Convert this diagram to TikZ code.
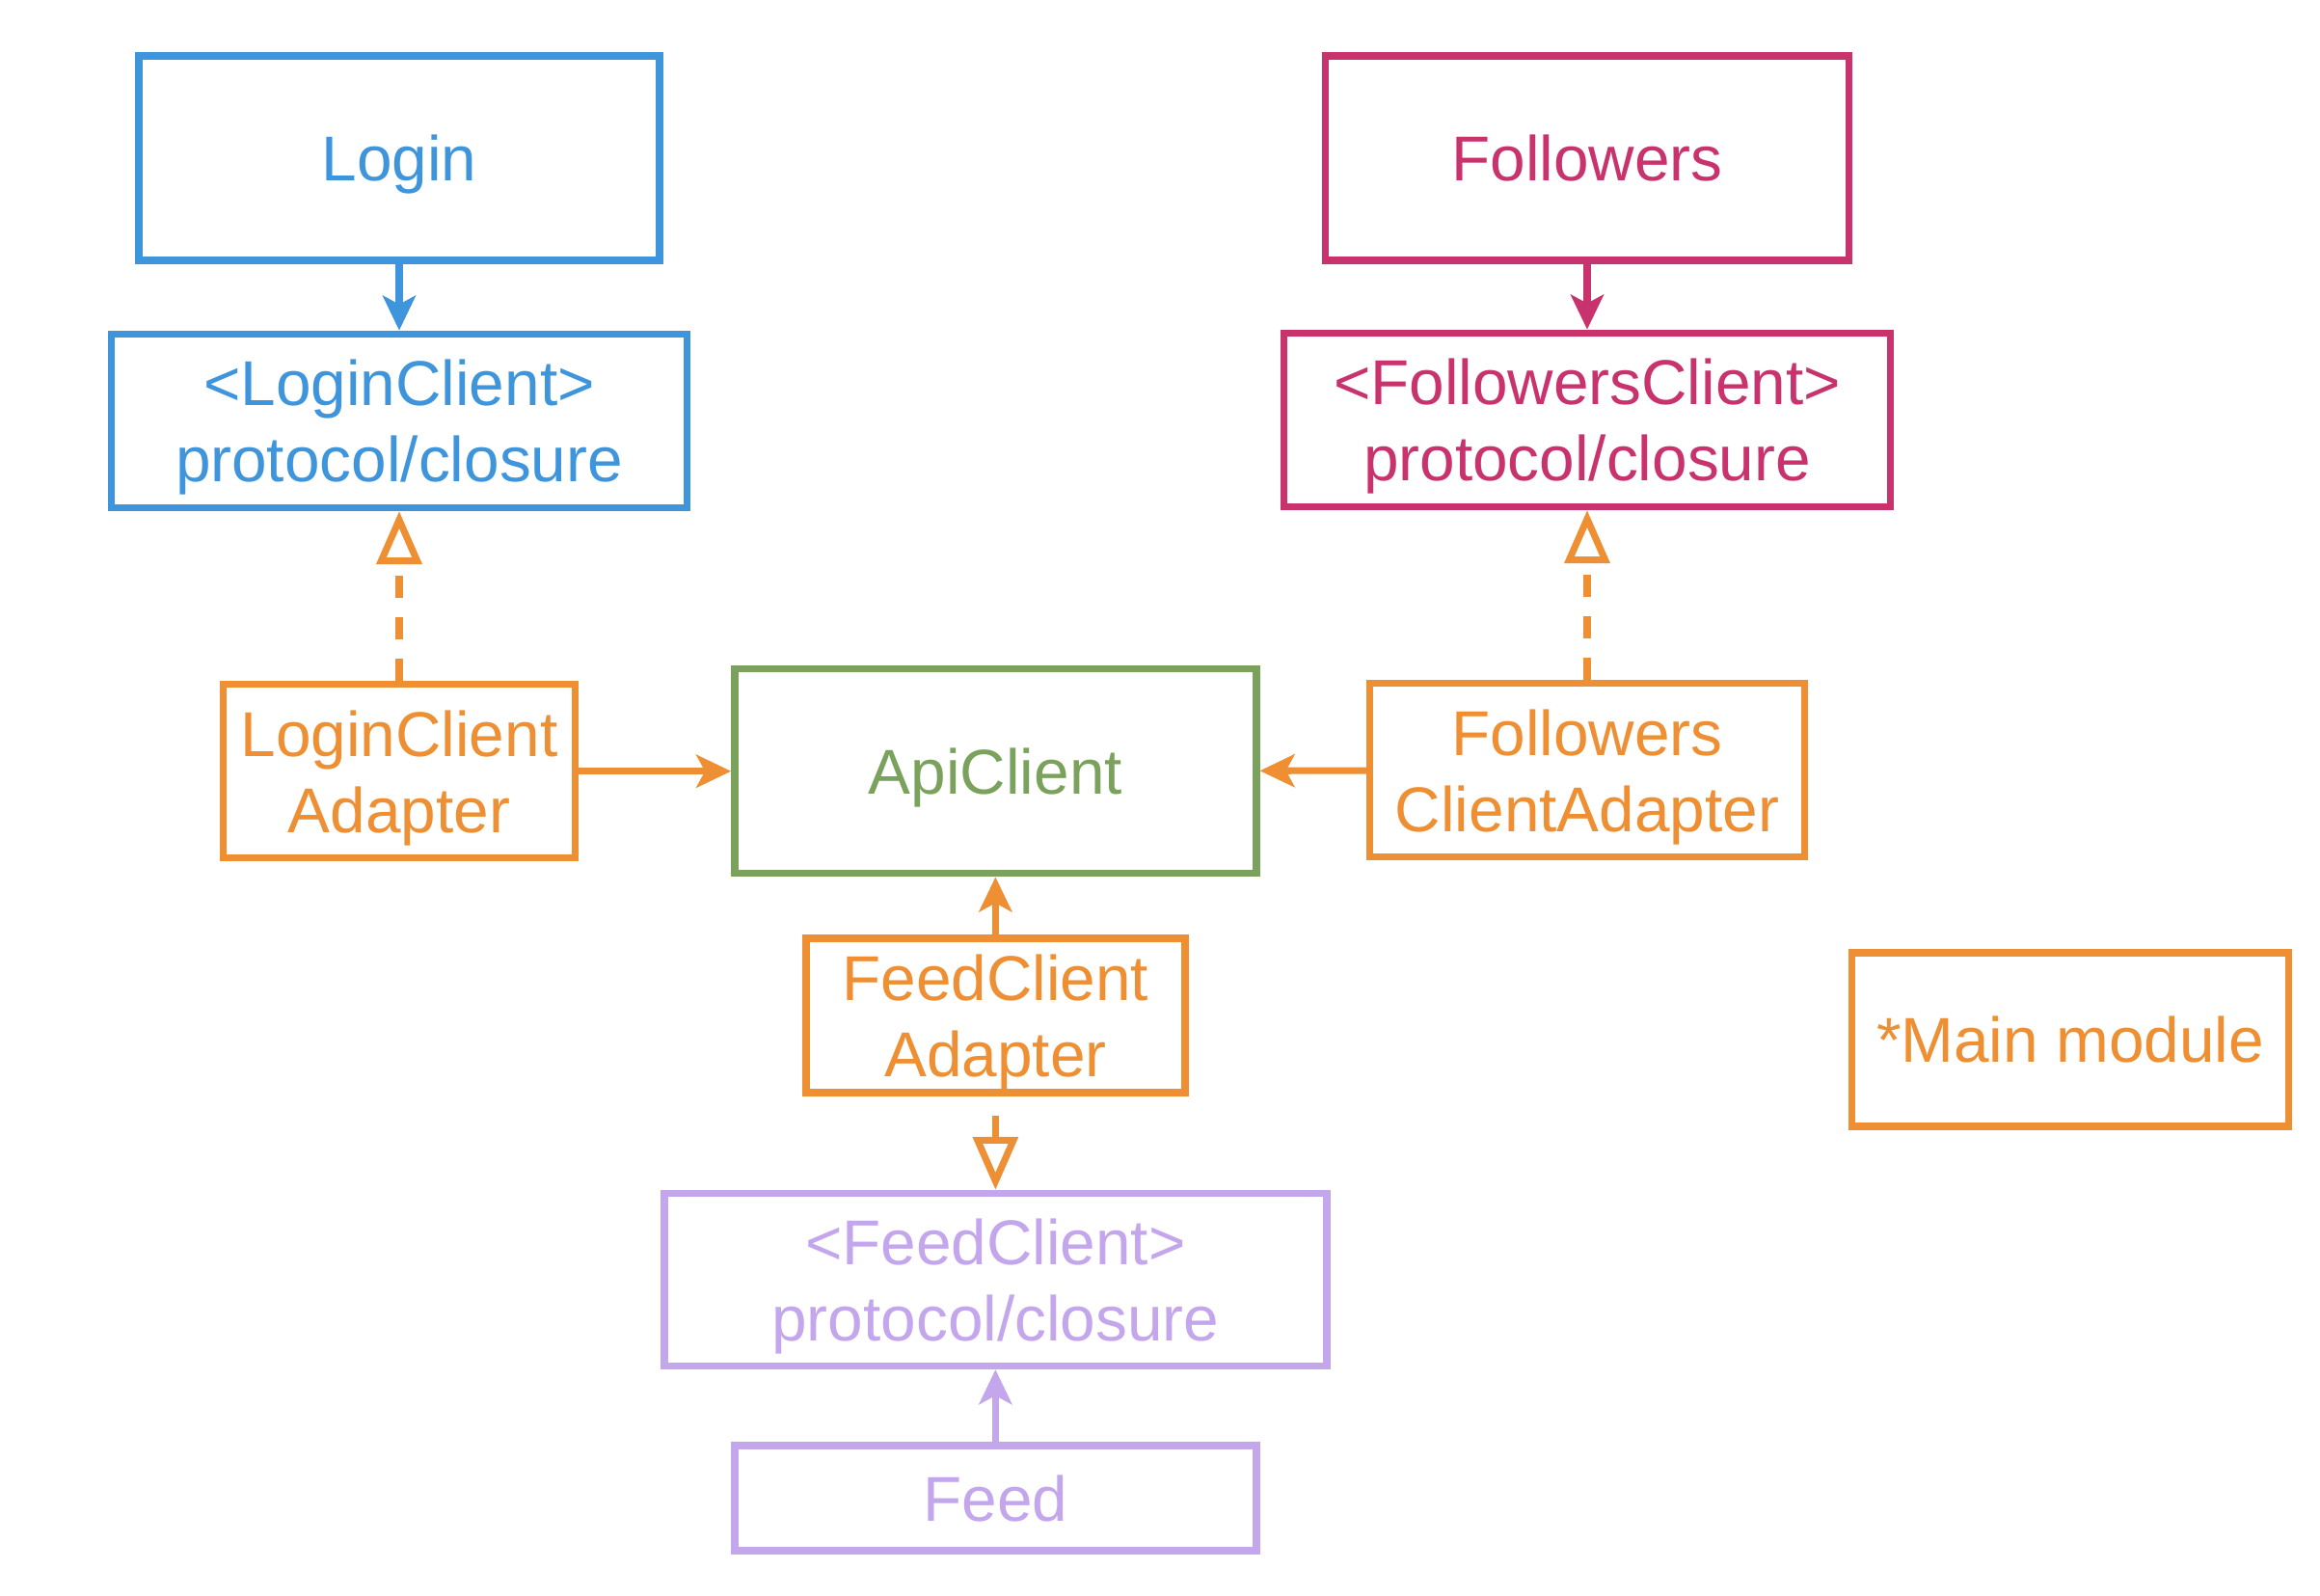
\documentclass[tikz,border=0pt]{standalone}
\usepackage{fontspec}
\setmainfont{Liberation Sans}
\usepackage{xcolor}
\usepackage{tikz}
\usetikzlibrary{arrows.meta,positioning}

\definecolor{loginblue}{RGB}{62,149,220}
\definecolor{followerspink}{RGB}{200,51,110}
\definecolor{adapterorange}{RGB}{237,143,50}
\definecolor{apigreen}{RGB}{122,162,92}
\definecolor{feedpurple}{RGB}{196,166,236}

\begin{document}
\begin{tikzpicture}[
    box/.style={rectangle, line width=2.1pt, align=center, inner sep=0pt, text depth=0pt, font=\fontsize{18.7}{22.5}\selectfont},
    login/.style={box, draw=loginblue, text=loginblue},
    followers/.style={box, draw=followerspink, text=followerspink},
    api/.style={box, draw=apigreen, text=apigreen},
    feed/.style={box, draw=feedpurple, text=feedpurple},
    adapter/.style={box, draw=adapterorange, text=adapterorange},
    uses/.style={-{Stealth[length=3.6mm, width=3.4mm, inset=0.9mm]}, line width=2pt},
    conforms/.style={-{Triangle[open, length=5.5mm, width=4.6mm]}, line width=2pt, dash pattern=on 2.3mm off 2mm}
]
    \useasboundingbox (0,0) rectangle (24.06,16.55);

    % Feature modules
    \node[login, minimum width=5.40cm, minimum height=2.12cm] (login) at (4.14,14.91) {Login};
    \node[login, minimum width=5.97cm, minimum height=1.80cm, below=0.69cm of login] (loginclient) {<LoginClient>\\protocol/closure};
    \node[followers, minimum width=5.43cm, minimum height=2.12cm] (followers) at (16.46,14.91) {Followers};
    \node[followers, minimum width=6.29cm, minimum height=1.80cm, below=0.68cm of followers] (followersclient) {<FollowersClient>\\protocol/closure};

    % Adapters and api
    \node[adapter, minimum width=3.65cm, minimum height=1.80cm, below=1.76cm of loginclient] (loginadapter) {LoginClient\\Adapter};
    \node[api, minimum width=5.41cm, minimum height=2.12cm, right=1.58cm of loginadapter] (apiclient) {ApiClient};
    \node[adapter, minimum width=4.51cm, minimum height=1.80cm, below=1.76cm of followersclient] (followersadapter) {Followers\\ClientAdapter};
    \node[adapter, minimum width=3.93cm, minimum height=1.60cm, below=0.60cm of apiclient] (feedadapter) {FeedClient\\Adapter};

    % Feed module
    \node[feed, minimum width=6.87cm, minimum height=1.79cm, below=0.97cm of feedadapter] (feedclient) {<FeedClient>\\protocol/closure};
    \node[feed, minimum width=5.41cm, minimum height=1.09cm, below=0.75cm of feedclient] (feedmod) {Feed};

    % Legend
    \node[adapter, minimum width=4.53cm, minimum height=1.80cm] (mainmodule) at (21.47,5.77) {*Main module};

    % Arrows
    \draw[uses, loginblue] (login) -- (loginclient);
    \draw[uses, followerspink] (followers) -- (followersclient);
    \draw[conforms, adapterorange] (loginadapter) -- (loginclient);
    \draw[conforms, adapterorange] (followersadapter) -- (followersclient);
    \draw[uses, adapterorange] (loginadapter) -- (apiclient);
    \draw[uses, adapterorange] (followersadapter) -- (apiclient);
    \draw[uses, adapterorange] (feedadapter) -- (apiclient);
    \draw[conforms, adapterorange, dash phase=2.3mm] (feedadapter) -- (feedclient);
    \draw[uses, feedpurple] (feedmod) -- (feedclient);
\end{tikzpicture}
\end{document}
